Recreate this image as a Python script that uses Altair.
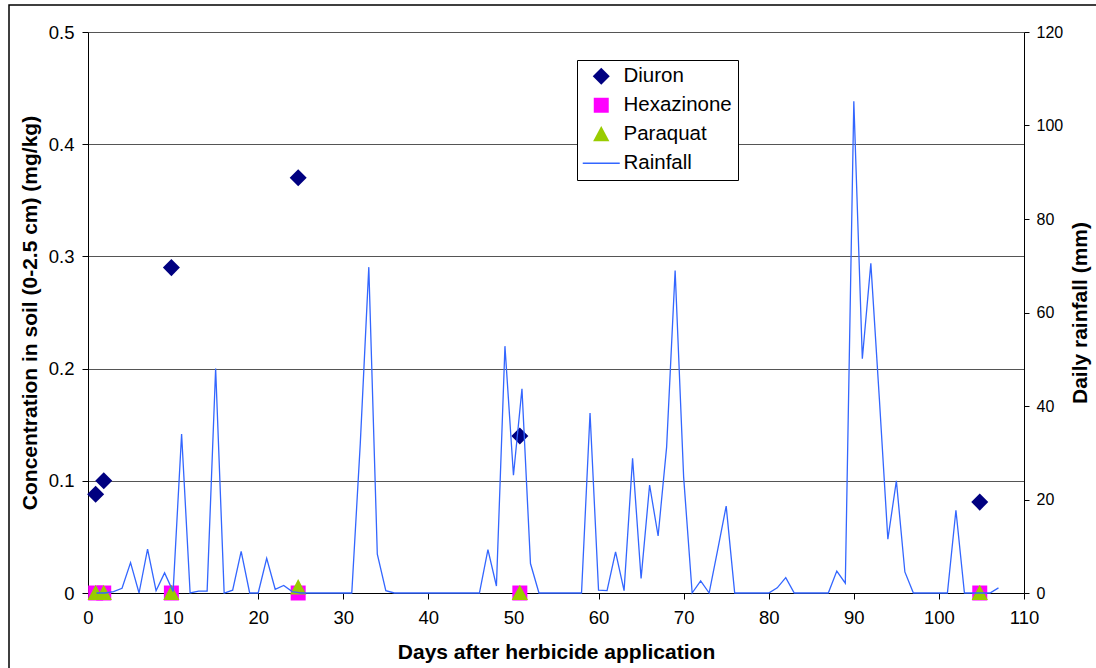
import altair as alt
import pandas as pd

# ---- data ----
rain_days = list(range(1, 108))
rainfall = [
    0, 0, 0.3, 1.0, 6.5, 0, 9.4, 0.5, 4.3, 0.3,          # 1-10
    34, 0, 0.4, 0.4, 48, 0, 0.6, 8.9, 0, 0,              # 11-20
    7.4, 0.8, 1.6, 0.3, 0, 0, 0, 0, 0, 0,                # 21-30
    0, 32, 69.7, 8.3, 0.5, 0, 0, 0, 0, 0,                # 31-40
    0, 0, 0, 0, 0, 0, 9.3, 1.5, 52.8, 25.2,              # 41-50
    43.7, 6.3, 0, 0, 0, 0, 0, 0, 38.5, 0.6,              # 51-60
    0.5, 8.8, 0.5, 28.8, 3.1, 23.1, 12.2, 31.2, 69, 24.8,  # 61-70
    0, 2.6, 0, 9.2, 18.6, 0, 0, 0, 0, 0,                 # 71-80
    1.1, 3.3, 0, 0, 0, 0, 0, 4.7, 2.1, 105.2,            # 81-90
    50.1, 70.5, 41.6, 11.5, 24, 4.5, 0, 0, 0, 0,         # 91-100
    0, 17.7, 0, 0, 0, 0, 1.1,                            # 101-107
]

sample_days = [0.9, 1.85, 9.8, 24.7, 50.75, 104.8]
diuron = [0.088, 0.100, 0.290, 0.370, 0.140, 0.081]
hexazinone = [0, 0, 0, 0, 0, 0]
paraquat = [0, 0, 0, 0.005, 0, 0]

series_names = ["Diuron", "Hexazinone", "Paraquat", "Rainfall"]
series_colors = ["#000080", "#FF00FF", "#99CC00", "#3366FF"]
series_shapes = [
    "M0,-0.46L0.46,0L0,0.46L-0.46,0Z",
    "M-0.405,-0.405H0.405V0.405H-0.405Z",
    "M0,-0.45L0.44,0.38L-0.44,0.38Z",
    "M-1,0H1",
]

x_ticks = list(range(0, 111, 10))
conc_ticks = [0, 0.1, 0.2, 0.3, 0.4, 0.5]
rain_ticks = [0, 20, 40, 60, 80, 100, 120]

# ---- tables ----
rain_df = pd.DataFrame({"day": rain_days, "rain": rainfall, "series": "Rainfall"})
rows = []
for name, vals in [("Diuron", diuron), ("Hexazinone", hexazinone), ("Paraquat", paraquat)]:
    for d, v in zip(sample_days, vals):
        rows.append({"day": d, "conc": v, "series": name})
conc_df = pd.DataFrame(rows)

FONT = "Liberation Sans"
SYM = 1369

x_scale = alt.Scale(domain=[0, 110], nice=False, zero=False)
x_axis = alt.Axis(
    values=x_ticks, title="Days after herbicide application", grid=False,
    labelFont=FONT, labelFontSize=18.5, labelColor="black", labelFlush=False,
    titleFont=FONT, titleFontSize=21, titleFontWeight="bold", titleColor="black",
    tickSize=6, tickColor="black", domainColor="black", labelPadding=9, titlePadding=15,
)
left_axis = alt.Axis(
    orient="left", values=conc_ticks, format="~f",
    title="Concentration in soil (0-2.5 cm) (mg/kg)",
    grid=True, gridColor="#555555", gridWidth=1,
    labelFont=FONT, labelFontSize=18.5, labelColor="black",
    titleFont=FONT, titleFontSize=21, titleFontWeight="bold", titleColor="black",
    tickSize=6, tickColor="black", domainColor="black", labelPadding=8, titlePadding=8,
)
right_axis = alt.Axis(
    orient="right", values=rain_ticks, title="Daily rainfall (mm)", grid=False,
    labelFont=FONT, labelFontSize=16, labelColor="black",
    titleFont=FONT, titleFontSize=21, titleFontWeight="bold", titleColor="black",
    titleAngle=270,
    tickSize=5, tickColor="black", domainColor="black", labelPadding=7, titlePadding=28,
)

color_scale = alt.Scale(domain=series_names, range=series_colors)
shape_scale = alt.Scale(domain=series_names, range=series_shapes)

legend = alt.Legend(
    title=None, orient="none", legendX=489, legendY=28,
    labelFont=FONT, labelFontSize=20.5, labelColor="black",
    symbolSize=SYM, padding=6, symbolOffset=8, labelOffset=12, rowPadding=8,
    strokeColor="black", fillColor="white", symbolOpacity=1,
    symbolStrokeColor=alt.ExprRef(expr="scale('color', datum.value)"),
    symbolStrokeWidth=alt.ExprRef(expr="datum.value === 'Rainfall' ? 1.5 : 0"),
)

frame = alt.Chart(pd.DataFrame({"a": [0]})).mark_rect(
    fill="transparent", stroke="black", strokeWidth=1.5
).encode(
    x=alt.value(-79), x2=alt.value(1012), y=alt.value(-27), y2=alt.value(640)
)

line = alt.Chart(rain_df).mark_line(strokeWidth=1.3).encode(
    x=alt.X("day:Q", scale=x_scale, axis=x_axis),
    y=alt.Y("rain:Q", scale=alt.Scale(domain=[0, 120], nice=False), axis=right_axis),
    color=alt.Color("series:N", scale=color_scale, legend=legend),
)

points = alt.Chart(conc_df).mark_point(filled=True, size=SYM, opacity=1).encode(
    x=alt.X("day:Q", scale=x_scale, axis=x_axis),
    y=alt.Y("conc:Q", scale=alt.Scale(domain=[0, 0.5], nice=False), axis=left_axis),
    color=alt.Color("series:N", scale=color_scale, legend=legend),
    shape=alt.Shape("series:N", scale=shape_scale, legend=legend),
)

chart = alt.layer(frame, points, line).resolve_scale(y="independent").properties(
    width=936, height=561,
    autosize=alt.AutoSizeParams(type="none"),
    padding={"left": 88, "top": 32, "right": 72, "bottom": 75},
    background="white",
).configure_view(strokeWidth=0)

chart.save("out.html", embed_options={"renderer": "svg", "actions": False})
